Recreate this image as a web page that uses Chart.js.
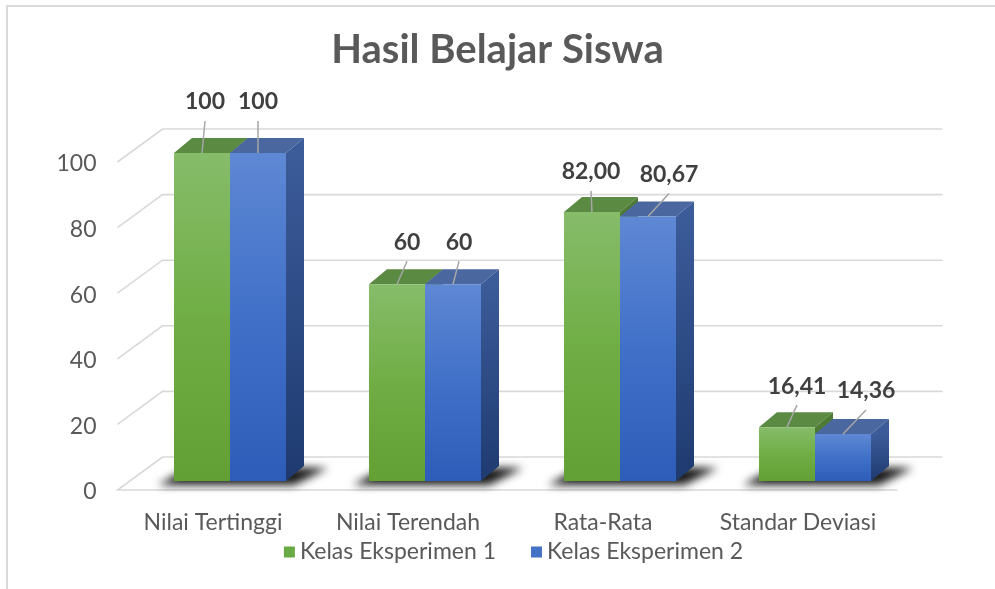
<!DOCTYPE html>
<html>
<head>
<meta charset="utf-8">
<script src="https://cdn.jsdelivr.net/npm/chart.js@4.4.1/dist/chart.umd.min.js"></script>
<style>
	html, body { margin: 0; padding: 0; background: #fff; }
	#wrap { width: 995px; height: 589px; }
</style>
</head>
<body>
<div id="wrap"><canvas id="hasilChart" width="995" height="589"></canvas></div>
<script>
const CATEGORIES = ['Nilai Tertinggi', 'Nilai Terendah', 'Rata-Rata', 'Standar Deviasi'];
const KELAS_1 = [100, 60, 82.0, 16.41];
const KELAS_2 = [100, 60, 80.67, 14.36];
const LABELS_1 = ['100', '60', '82,00', '16,41'];
const LABELS_2 = ['100', '60', '80,67', '14,36'];
const Y_MIN = 0;
const Y_MAX = 100;
const Y_STEP = 20;

// where each value label sits relative to the top of its bar (dx, dy)
const NUDGE_1 = [[3, -51], [10, -42], [-1, -40], [10, -41]];
const NUDGE_2 = [[0, -51], [6, -42], [21, -42], [23, -43]];

const FONT = 'Lato, "Open Sans", sans-serif';
const TEXT = '#595959';
const BAR_DX = 18, BAR_DY = -15;   // depth of a bar
const WALL_DX = 45, WALL_DY = -33; // depth of the floor / back wall
const FRONT_DOWN = 9;              // front edge of the floor sits below the bar fronts
const FRONT_LEFT = -15;

const GREEN = { front: ['#86bc6a', '#70ae45', '#62a035'], top: '#5b8a43', side: ['#4e7a35', '#3d6526'], legend: '#6aaa45' };
const BLUE = { front: ['#5f88d4', '#4070c8', '#2d5db8'], top: '#4a67a0', side: ['#3b5b99', '#1e3a70'], legend: '#4472c4' };

function frontFill(c) {
	return ctx => {
		const chart = ctx.chart;
		if (!chart.chartArea || ctx.type !== 'data') return c.legend;
		const y = chart.scales.y;
		const g = chart.ctx.createLinearGradient(0, y.getPixelForValue(ctx.raw), 0, y.getPixelForValue(0));
		g.addColorStop(0, c.front[0]);
		g.addColorStop(0.5, c.front[1]);
		g.addColorStop(1, c.front[2]);
		return g;
	};
}

function poly(ctx, pts, fill) {
	ctx.beginPath();
	ctx.moveTo(pts[0][0], pts[0][1]);
	for (let i = 1; i < pts.length; i++) ctx.lineTo(pts[i][0], pts[i][1]);
	ctx.closePath();
	ctx.fillStyle = fill;
	ctx.fill();
}

const frame3d = {
	id: 'frame3d',
	beforeDraw(chart) {
		const { ctx, chartArea: a, scales } = chart;
		ctx.save();
		ctx.fillStyle = '#fff';
		ctx.fillRect(0, 0, chart.width, chart.height);
		// outer frame
		ctx.strokeStyle = '#d9d9d9';
		ctx.lineWidth = 2;
		ctx.beginPath();
		ctx.moveTo(7, chart.height);
		ctx.lineTo(7, 6);
		ctx.lineTo(chart.width, 6);
		ctx.stroke();

		// floor + back wall grid
		const fl = a.left + FRONT_LEFT, fr = a.right + FRONT_LEFT;
		ctx.lineWidth = 1.6;
		scales.y.ticks.forEach(t => {
			const yf = scales.y.getPixelForValue(t.value) + FRONT_DOWN;
			ctx.beginPath();
			if (t.value === Y_MIN) {
				ctx.moveTo(fr, yf);
				ctx.lineTo(fl, yf);
			} else {
				ctx.moveTo(fl, yf);
			}
			ctx.lineTo(fl + WALL_DX, yf + WALL_DY);
			ctx.lineTo(fr + WALL_DX, yf + WALL_DY);
			ctx.stroke();
		});
		ctx.restore();
	},
	beforeDatasetsDraw(chart) {
		const { ctx } = chart;
		const m1 = chart.getDatasetMeta(0).data;
		const m2 = chart.getDatasetMeta(1).data;
		ctx.save();
		// soft shadow under each pair of bars
		ctx.filter = 'blur(4px)';
		m1.forEach((b1, i) => {
			const b2 = m2[i];
			const l = b1.x - b1.width / 2, r = b2.x + b2.width / 2, base = b1.base;
			poly(ctx, [[l - 16, base + 4], [r + 8, base + 4], [r + BAR_DX + 24, base + BAR_DY + 2], [l + BAR_DX, base + BAR_DY]], 'rgba(0,0,0,0.9)');
		});
		ctx.filter = 'none';
		// tops and right sides
		m1.forEach((b1, i) => {
			[[b1, GREEN], [m2[i], BLUE]].forEach(([b, c]) => {
				const l = b.x - b.width / 2, r = b.x + b.width / 2, top = b.y, base = b.base;
				poly(ctx, [[l, top], [r, top], [r + BAR_DX, top + BAR_DY], [l + BAR_DX, top + BAR_DY]], c.top);
				const g = ctx.createLinearGradient(0, top, 0, base);
				g.addColorStop(0, c.side[0]);
				g.addColorStop(1, c.side[1]);
				poly(ctx, [[r, top], [r + BAR_DX, top + BAR_DY], [r + BAR_DX, base + BAR_DY], [r, base]], g);
			});
		});
		ctx.restore();
	},
	afterDraw(chart) {
		const { ctx } = chart;
		ctx.save();
		// value labels with leader lines
		ctx.font = 'bold 23px ' + FONT;
		ctx.fillStyle = '#404040';
		ctx.textAlign = 'center';
		ctx.textBaseline = 'middle';
		ctx.strokeStyle = '#a6a6a6';
		ctx.lineWidth = 1.5;
		[[LABELS_1, NUDGE_1], [LABELS_2, NUDGE_2]].forEach(([labels, nudge], d) => {
			chart.getDatasetMeta(d).data.forEach((b, i) => {
				const lx = b.x + nudge[i][0], ly = b.y + nudge[i][1];
				ctx.beginPath();
				ctx.moveTo(lx, ly + 19);
				ctx.lineTo(b.x, b.y);
				ctx.stroke();
				ctx.fillText(labels[i], lx, ly);
			});
		});

		// legend: small square, then the series name
		ctx.font = '23px ' + FONT;
		ctx.textAlign = 'left';
		const items = chart.data.datasets.map((ds, i) => ({
			text: ds.label,
			color: [GREEN, BLUE][i].legend,
			w: 11 + 5 + ctx.measureText(ds.label).width,
		}));
		const gap = 35;
		const total = items.reduce((s, it) => s + it.w, 0) + gap * (items.length - 1);
		let x = chart.width / 2 + 16 - total / 2;
		const y = 552;
		items.forEach(it => {
			ctx.fillStyle = it.color;
			ctx.fillRect(x, y - 5.5, 11, 11);
			ctx.fillStyle = TEXT;
			ctx.fillText(it.text, x + 16, y);
			x += it.w + gap;
		});
		ctx.restore();
	},
};

new Chart(document.getElementById('hasilChart'), {
	type: 'bar',
	data: {
		labels: CATEGORIES,
		datasets: [
			{
				label: 'Kelas Eksperimen 1',
				data: KELAS_1,
				backgroundColor: frontFill(GREEN),
				borderWidth: 0,
			},
			{
				label: 'Kelas Eksperimen 2',
				data: KELAS_2,
				backgroundColor: frontFill(BLUE),
				borderWidth: 0,
			},
		],
	},
	options: {
		responsive: false,
		animation: false,
		devicePixelRatio: 1,
		layout: { padding: 0 },
		datasets: {
			bar: { categoryPercentage: 0.5744, barPercentage: 1 },
		},
		scales: {
			x: {
				grid: { display: false, drawTicks: false },
				border: { display: false },
				ticks: {
					labelOffset: -17,
					padding: 28,
					color: TEXT,
					font: { family: FONT, size: 23 },
				},
				afterFit(s) { s.height = 108; },
			},
			y: {
				min: Y_MIN,
				max: Y_MAX,
				grid: { display: false, drawTicks: false },
				border: { display: false },
				ticks: {
					stepSize: Y_STEP,
					labelOffset: 11,
					padding: 36,
					color: TEXT,
					font: { family: FONT, size: 23 },
				},
				afterFit(s) { s.width = 132.5; },
			},
			yRight: {
				position: 'right',
				grid: { display: false, drawTicks: false },
				border: { display: false },
				ticks: { display: false },
				afterFit(s) { s.width = 82.5; },
			},
		},
		plugins: {
			title: {
				display: true,
				text: 'Hasil Belajar Siswa',
				color: TEXT,
				font: { family: FONT, size: 40, weight: 'bold' },
				padding: { top: 26, bottom: 79 },
			},
			legend: { display: false },
			tooltip: { enabled: false },
		},
	},
	plugins: [frame3d],
});
</script>
</body>
</html>
